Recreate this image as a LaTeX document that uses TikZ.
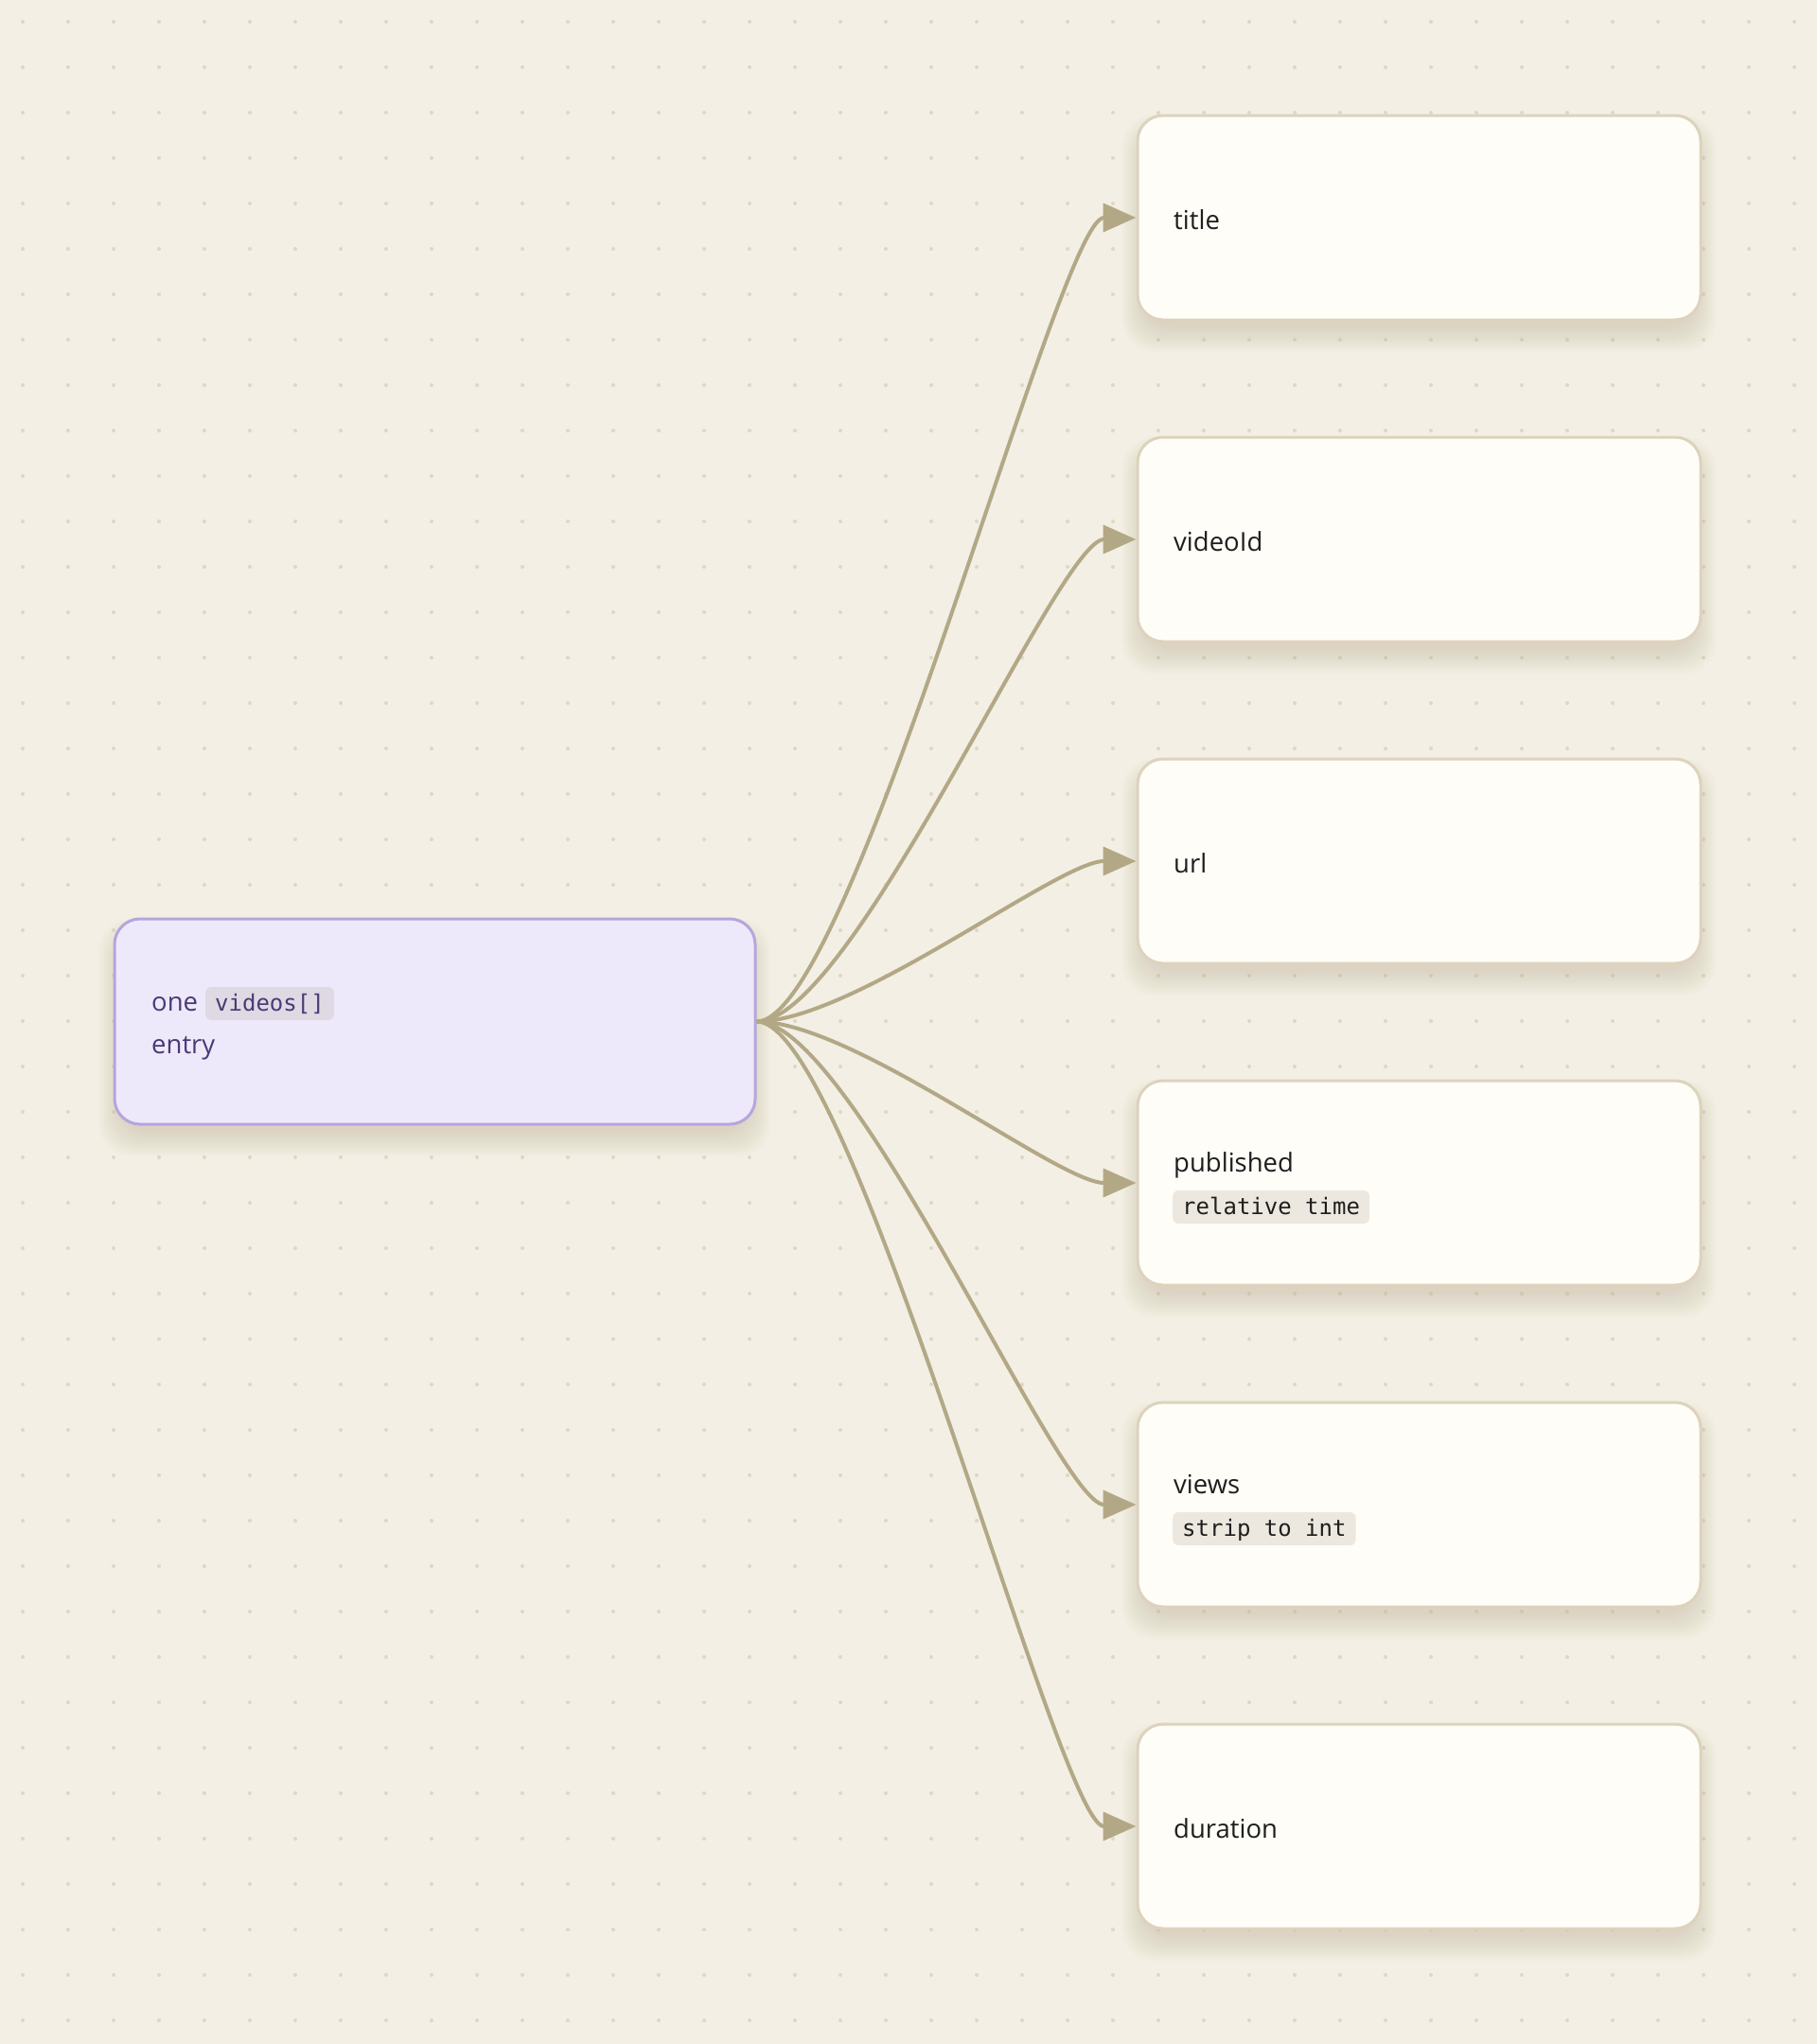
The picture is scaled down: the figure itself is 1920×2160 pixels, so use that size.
\documentclass[tikz,border=0pt]{standalone}
\usepackage{fontspec}
\setmainfont{Open Sans}
\newfontfamily\codefont{DejaVu Sans Mono}
\usetikzlibrary{arrows.meta}
\definecolor{bgc}{HTML}{F3EFE4}
\definecolor{dotc}{HTML}{DED7C6}
\definecolor{boxfill}{HTML}{FFFDF7}
\definecolor{boxline}{HTML}{DDD3BD}
\definecolor{srcfill}{HTML}{EEE9FA}
\definecolor{srcline}{HTML}{B6A5DE}
\definecolor{srctext}{HTML}{4A3A75}
\definecolor{srcchip}{HTML}{DFD9E4}
\definecolor{chipfill}{HTML}{EDE8DF}
\definecolor{textc}{HTML}{1E1E1E}
\definecolor{arrowc}{HTML}{B3A886}
\definecolor{shadowc}{HTML}{B8A682}
\newcommand\myshadow[4]{%
  \foreach \k in {0,...,13}{%
    \fill[shadowc, opacity=0.022, rounded corners=32pt]
      (#1+6-1.7*\k, #2+22-1.7*\k) rectangle (#3-6+1.7*\k, #4+8+2*\k);
  }%
}
\begin{document}
\begin{tikzpicture}[x=1pt, y=-1pt,
  fieldbox/.style={draw=boxline, fill=boxfill, line width=3pt, rounded corners=27pt,
    minimum width=595pt, minimum height=216pt, inner sep=0pt},
  srcbox/.style={draw=srcline, fill=srcfill, line width=3pt, rounded corners=27pt,
    minimum width=677pt, minimum height=217pt, inner sep=0pt},
  lbl/.style={inner sep=0pt, anchor=base west, text=textc, font=\fontsize{27.5}{33}\selectfont},
  srclbl/.style={lbl, text=srctext},
  chip/.style={anchor=base west, fill=chipfill, rounded corners=6pt, inner xsep=10pt,
    inner ysep=5pt, text height=20pt, text depth=5pt, text=textc,
    font=\codefont\fontsize{24}{28}\selectfont},
  srcchip/.style={chip, fill=srcchip, text=srctext},
  edge/.style={draw=arrowc, line width=4pt, -{Triangle[length=35pt,width=30pt]}}
]
\fill[bgc] (0,0) rectangle (1920,2160);
\useasboundingbox (0,0) rectangle (1920,2160);
\foreach \i in {0,...,39}{
  \foreach \j in {0,...,44}{
    \fill[dotc] (24+48*\i, 23+48*\j) circle (2);
  }
}
% shadows
\myshadow{121}{971}{798}{1188}
\foreach \t in {122,462,802,1142,1482,1822}{
  \myshadow{1202}{\t}{1797}{\t+216}
}
% boxes
\node[srcbox] (src) at (459.5,1079.5) {};
\node[fieldbox] (title) at (1499.5,230) {};
\node[fieldbox] (videoId) at (1499.5,570) {};
\node[fieldbox] (url) at (1499.5,910) {};
\node[fieldbox] (published) at (1499.5,1250) {};
\node[fieldbox] (views) at (1499.5,1590) {};
\node[fieldbox] (duration) at (1499.5,1930) {};
% texts
\node[srclbl] (tOne) at (160,1068) {one};
\node[srcchip] (cVideos) at (217,1068) {videos[]};
\node[srclbl] (tEntry) at (160,1113) {entry};
\node[lbl] (tTitle) at (1240,242) {title};
\node[lbl] (tVideoId) at (1240,582) {videoId};
\node[lbl] (tUrl) at (1240,922) {url};
\node[lbl] (tPublished) at (1240,1238) {published};
\node[chip] (cPublished) at (1239,1283) {relative time};
\node[lbl] (tViews) at (1240,1578) {views};
\node[chip] (cViews) at (1239,1623) {strip to int};
\node[lbl] (tDuration) at (1240,1942) {duration};
% edges
\foreach \n in {title,videoId,url,published,views,duration}{
  \draw[edge] (src.east) .. controls +(102,0) and +(-82,0) .. (\n.west);
}
\end{tikzpicture}
\end{document}
